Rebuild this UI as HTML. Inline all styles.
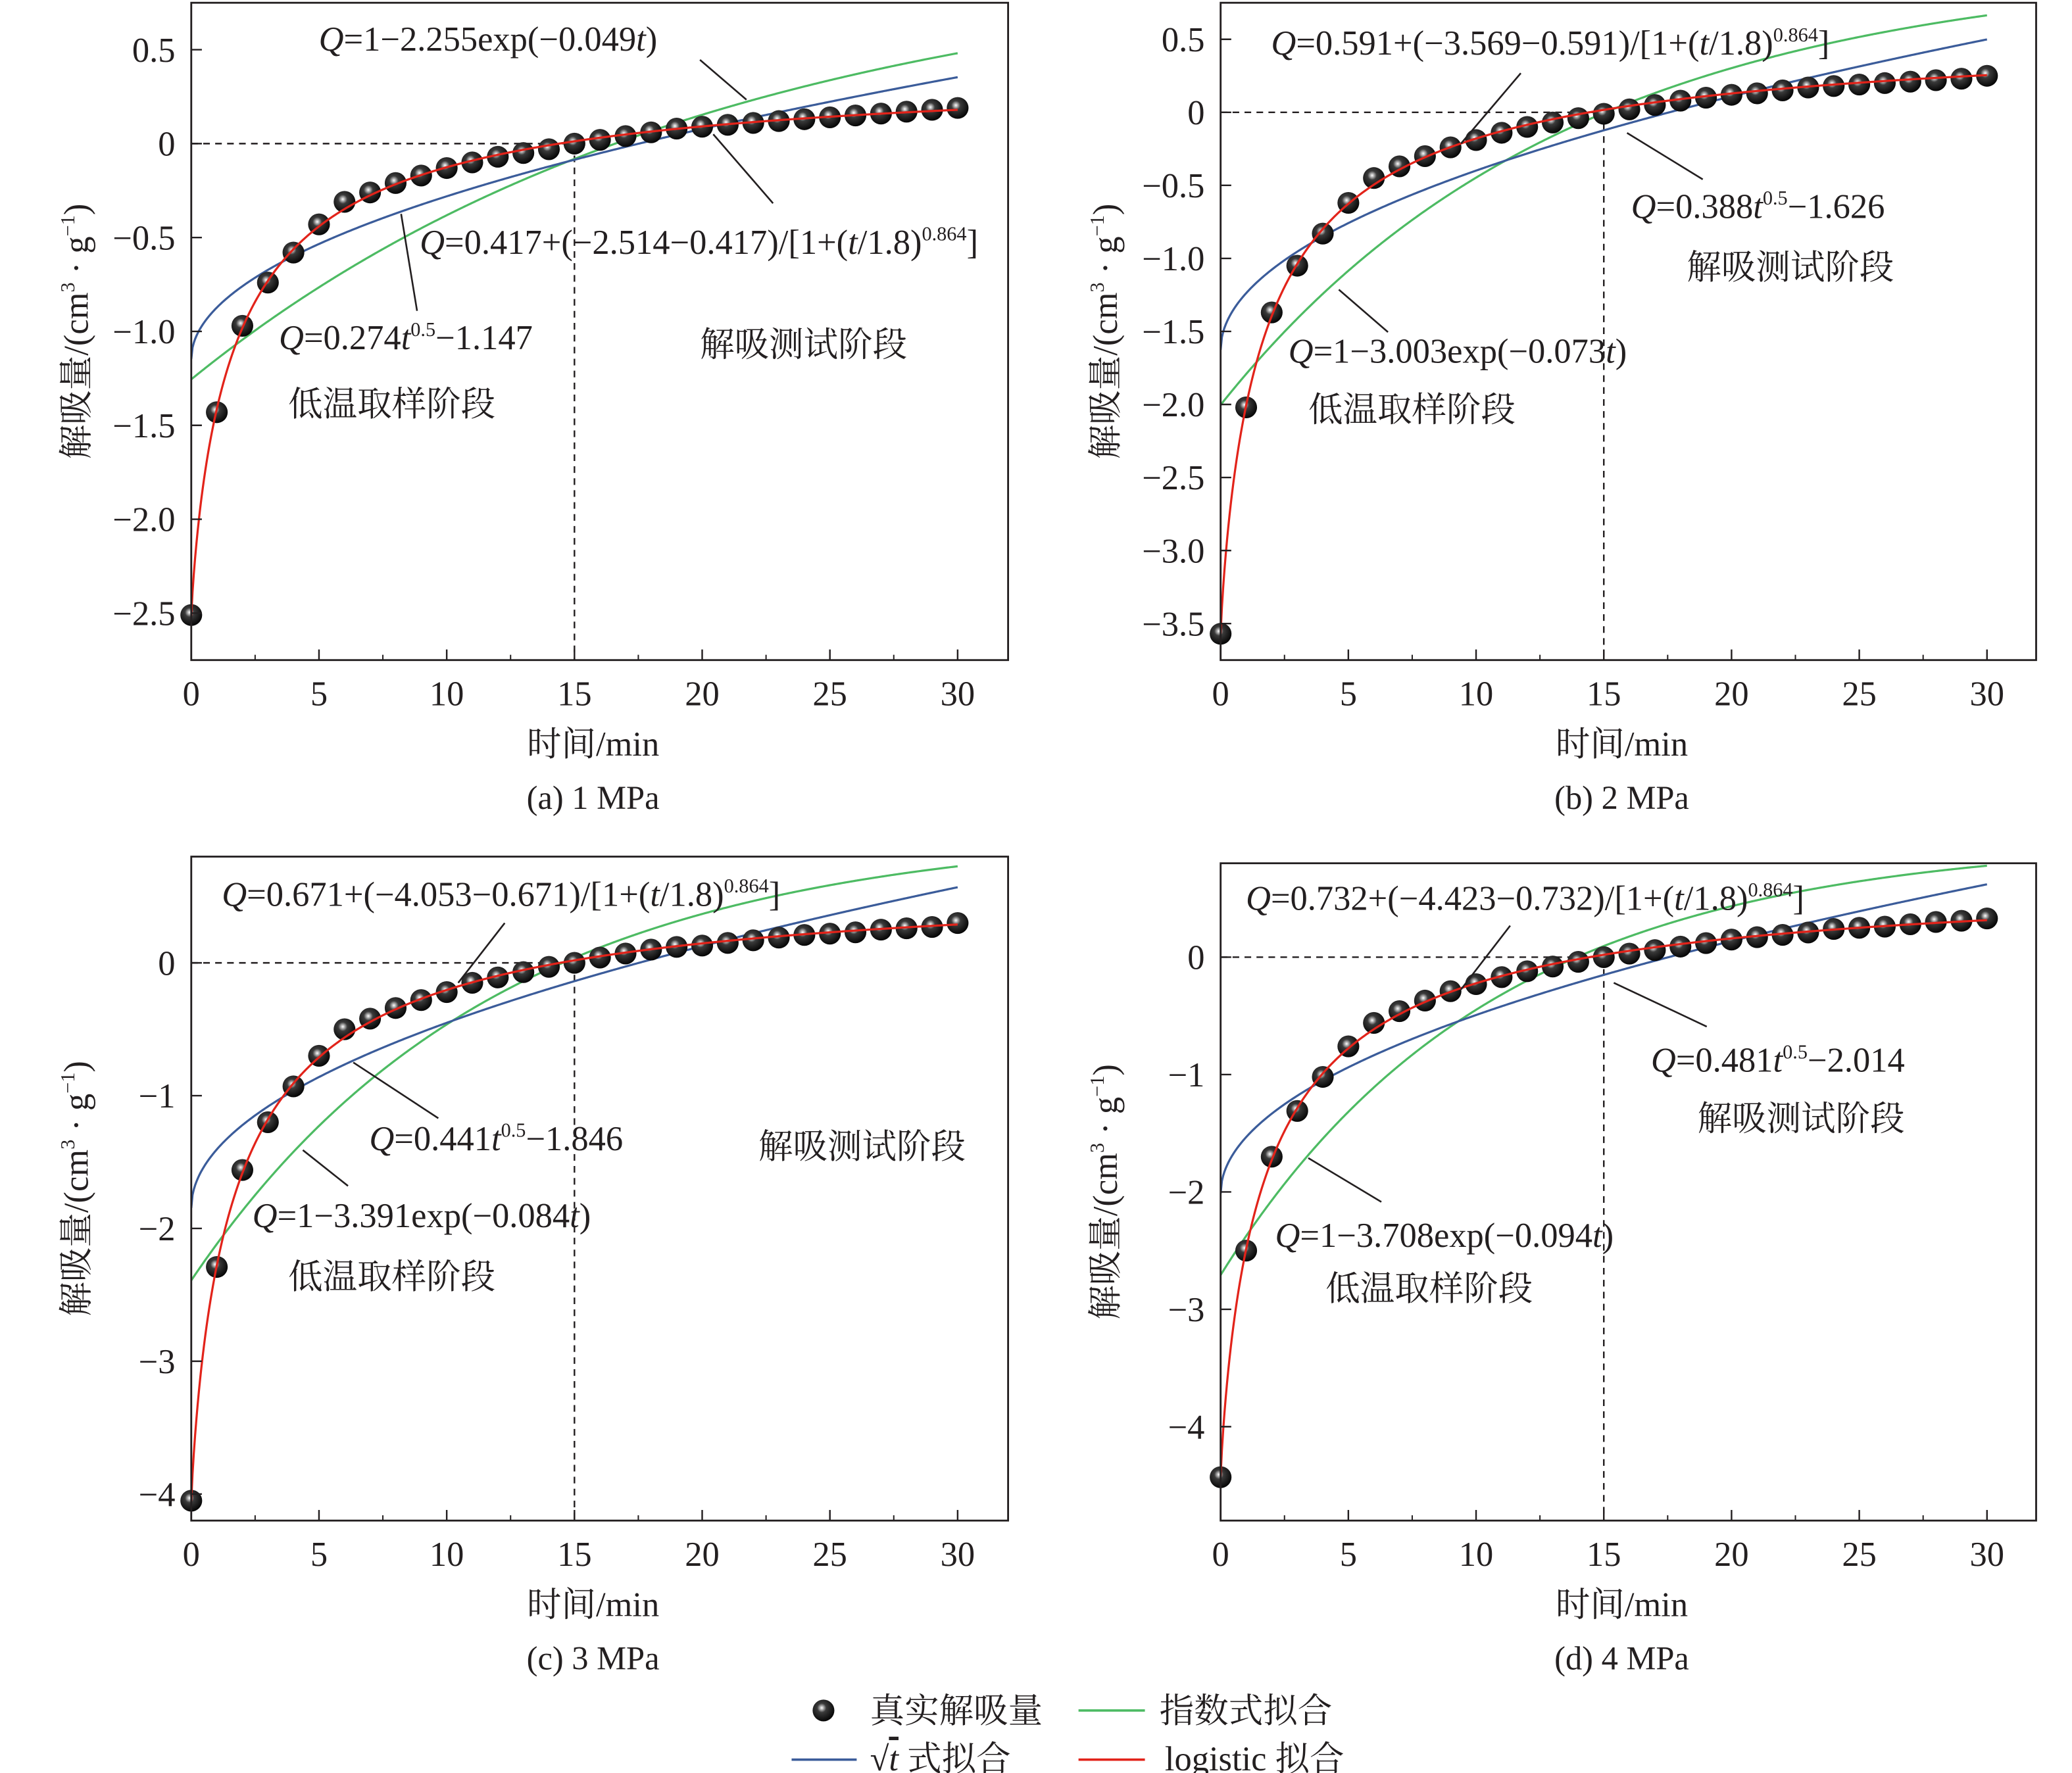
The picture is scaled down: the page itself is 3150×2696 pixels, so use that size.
<!DOCTYPE html>
<html><head><meta charset="utf-8">
<style>
html,body{margin:0;padding:0;background:#fff;}
svg{display:block;}
text{font-family:"Liberation Serif","Noto Serif CJK SC","Noto Sans CJK SC",serif;fill:#231f20;}
</style></head>
<body>
<svg id="fig" width="3150" height="2696" viewBox="0 0 1560 1335" xmlns="http://www.w3.org/2000/svg">
<defs>
<radialGradient id="ball" cx="0.42" cy="0.38" r="0.6">
<stop offset="0" stop-color="#ffffff"/>
<stop offset="0.18" stop-color="#9a9a9a"/>
<stop offset="0.35" stop-color="#3a3a3a"/>
<stop offset="1" stop-color="#080808"/>
</radialGradient>
</defs>
<g id="root"></g>
</svg>
<script>
const NS="http://www.w3.org/2000/svg";
const times=[0,1,2,3,4,5,6,7,8,9,10,11,12,13,14,15,16,17,18,19,20,21,22,23,24,25,26,27,28,29,30];
const dataA=[-2.51,-1.43,-0.97,-0.74,-0.58,-0.43,-0.31,-0.26,-0.21,-0.17,-0.13,-0.10,-0.07,-0.05,-0.03,0.0,0.02,0.04,0.06,0.08,0.09,0.10,0.11,0.12,0.13,0.14,0.15,0.16,0.17,0.18,0.19];
const dataB=[-3.57,-2.02,-1.37,-1.05,-0.83,-0.62,-0.45,-0.37,-0.30,-0.24,-0.19,-0.14,-0.10,-0.07,-0.04,-0.01,0.02,0.05,0.08,0.10,0.12,0.13,0.15,0.17,0.18,0.19,0.20,0.21,0.22,0.23,0.25];
const dataC=[-4.05,-2.29,-1.56,-1.20,-0.93,-0.70,-0.50,-0.42,-0.34,-0.28,-0.22,-0.15,-0.11,-0.07,-0.03,0.0,0.04,0.07,0.10,0.12,0.13,0.15,0.17,0.19,0.21,0.22,0.23,0.25,0.26,0.27,0.30];
const dataD=[-4.43,-2.50,-1.70,-1.31,-1.02,-0.76,-0.56,-0.46,-0.37,-0.29,-0.23,-0.17,-0.12,-0.08,-0.04,0.0,0.03,0.06,0.09,0.12,0.15,0.17,0.19,0.21,0.24,0.25,0.26,0.28,0.30,0.31,0.33];
const sqrtA=[0.274,-1.147], expA=[2.255,0.049], logA=[0.417,-2.514,1.8,0.864];
const sqrtB=[0.388,-1.626], expB=[3.003,0.073], logB=[0.591,-3.569,1.8,0.864];
const sqrtC=[0.441,-1.846], expC=[3.391,0.084], logC=[0.671,-4.053,1.8,0.864];
const sqrtD=[0.481,-2.014], expD=[3.708,0.094], logD=[0.732,-4.423,1.8,0.864];
const yTicksA=[0.5,0,-0.5,-1.0,-1.5,-2.0,-2.5];
const yTicksB=[0.5,0,-0.5,-1.0,-1.5,-2.0,-2.5,-3.0,-3.5];
const yTicksC=[0,-1,-2,-3,-4];
const yTicksD=[0,-1,-2,-3,-4];
const xTicks=[0,5,10,15,20,25,30];

const root=document.getElementById('root');
function mk(tag,attrs,parent){const e=document.createElementNS(NS,tag);for(const k in attrs)e.setAttribute(k,attrs[k]);(parent||root).appendChild(e);return e;}
function fmt(v,dec){let s=dec?v.toFixed(1):String(v);if(v===0)s="0";return s.replace('-','\u2212');}

const panels=[
 {id:'a',L:144,R:759,T:2,B:497,x30:721,ymin:-2.75,ymax:0.75,data:dataA,sq:sqrtA,ex:expA,lg:logA,ticks:yTicksA,dec:true,label:'(a) 1 MPa'},
 {id:'b',L:919,R:1533,T:2,B:497,x30:1496,ymin:-3.75,ymax:0.75,data:dataB,sq:sqrtB,ex:expB,lg:logB,ticks:yTicksB,dec:true,label:'(b) 2 MPa'},
 {id:'c',L:144,R:759,T:645,B:1145,x30:721,ymin:-4.2,ymax:0.8,data:dataC,sq:sqrtC,ex:expC,lg:logC,ticks:yTicksC,dec:false,label:'(c) 3 MPa'},
 {id:'d',L:919,R:1533,T:650,B:1145,x30:1496,ymin:-4.8,ymax:0.8,data:dataD,sq:sqrtD,ex:expD,lg:logD,ticks:yTicksD,dec:false,label:'(d) 4 MPa'}
];

panels.forEach(p=>{
 const g=mk('g',{});
 
 
 const xs=t=>p.L+(p.x30-p.L)*t/30;
 const ys=v=>p.T+(p.ymax-v)/(p.ymax-p.ymin)*(p.B-p.T);
 const cp=mk('clipPath',{id:'clip'+p.id},g);
 mk('rect',{x:p.L,y:p.T,width:p.R-p.L,height:p.B-p.T},cp);
 const dh=mk('line',{x1:p.L,y1:ys(0),x2:xs(15),y2:ys(0),stroke:'#231f20','stroke-width':1.2,'stroke-dasharray':'5,4'},g);
 
 
 const dv=mk('line',{x1:xs(15),y1:ys(0),x2:xs(15),y2:p.B,stroke:'#231f20','stroke-width':1.2,'stroke-dasharray':'5,4'},g);
 
 
 const fSq=t=>p.sq[0]*Math.sqrt(t)+p.sq[1];
 const fEx=t=>1-p.ex[0]*Math.exp(-p.ex[1]*t);
 const fLg=t=>p.lg[0]+(p.lg[1]-p.lg[0])/(1+Math.pow(t/p.lg[2],p.lg[3]));
 [[fEx,'#4dbb63','exp-fit-curve'],[fSq,'#3b5c9a','sqrt-fit-curve']].forEach(([f,c,n])=>{
  let d='';for(let i=0;i<=600;i++){const t=30*i/600;d+=(i?'L':'M')+xs(t).toFixed(2)+','+ys(f(t)).toFixed(2);}
  const pa=mk('path',{d:d,fill:'none',stroke:c,'stroke-width':1.6,'clip-path':'url(#clip'+p.id+')'},g);
  
  
 });
 p.data.forEach((v,i)=>{
  const c=mk('circle',{cx:xs(times[i]),cy:ys(v),r:8.2,fill:'url(#ball)'},g);
  
  
 });
 let d='';for(let i=0;i<=600;i++){const t=30*i/600;d+=(i?'L':'M')+xs(t).toFixed(2)+','+ys(fLg(t)).toFixed(2);}
 const lp=mk('path',{d:d,fill:'none',stroke:'#e2231a','stroke-width':1.6,'clip-path':'url(#clip'+p.id+')'},g);
 
 
 const fr=mk('rect',{x:p.L,y:p.T,width:p.R-p.L,height:p.B-p.T,fill:'none',stroke:'#231f20','stroke-width':1.4},g);
 
 
 xTicks.forEach(t=>{
  mk('line',{x1:xs(t),y1:p.B,x2:xs(t),y2:p.B-8,stroke:'#231f20','stroke-width':1.2},g);
  if(t<30) mk('line',{x1:xs(t+2.5),y1:p.B,x2:xs(t+2.5),y2:p.B-4,stroke:'#231f20','stroke-width':1},g);
  const tx=mk('text',{x:xs(t),y:p.B+34,'text-anchor':'middle','font-size':26},g);
  tx.textContent=String(t);
  
  
 });
 p.ticks.forEach(v=>{
  mk('line',{x1:p.L,y1:ys(v),x2:p.L+8,y2:ys(v),stroke:'#231f20','stroke-width':1.2},g);
  const tx=mk('text',{x:p.L-12,y:ys(v)+9,'text-anchor':'end','font-size':26},g);
  tx.textContent=fmt(v,p.dec);
  
  
 });
 const cx=(p.L+p.R)/2-5;
 const xt=mk('text',{x:cx,y:p.B+72,'text-anchor':'middle','font-size':26},g);
 xt.textContent='时间/min';
 
 
 const cap=mk('text',{x:cx,y:p.B+112,'text-anchor':'middle','font-size':25},g);
 cap.textContent=p.label;
 
 
 const yc=(p.T+p.B)/2, yx=p.L-78;
 const yt=mk('text',{x:yx,y:yc,'text-anchor':'middle','font-size':26,transform:'rotate(-90 '+yx+' '+yc+')'},g);
 yt.innerHTML='解吸量/(cm<tspan font-size="15" dy="-10">3</tspan><tspan dy="10"> · g</tspan><tspan font-size="15" dy="-10">−1</tspan><tspan dy="10">)</tspan>';
 
 
});

const notes=[
 ['<tspan font-style="italic">Q</tspan>=1−2.255exp(−0.049<tspan font-style="italic">t</tspan>)',240,38],
 ['<tspan font-style="italic">Q</tspan>=0.417+(−2.514−0.417)/[1+(<tspan font-style="italic">t</tspan>/1.8)<tspan font-size="15" dy="-10">0.864</tspan><tspan dy="10">]</tspan>',316,191],
 ['<tspan font-style="italic">Q</tspan>=0.274<tspan font-style="italic">t</tspan><tspan font-size="15" dy="-10">0.5</tspan><tspan dy="10">−1.147</tspan>',210,263],
 ['低温取样阶段',217,313],['解吸测试阶段',527,268],
 ['<tspan font-style="italic">Q</tspan>=0.591+(−3.569−0.591)/[1+(<tspan font-style="italic">t</tspan>/1.8)<tspan font-size="15" dy="-10">0.864</tspan><tspan dy="10">]</tspan>',957,41],
 ['<tspan font-style="italic">Q</tspan>=0.388<tspan font-style="italic">t</tspan><tspan font-size="15" dy="-10">0.5</tspan><tspan dy="10">−1.626</tspan>',1228,164],
 ['解吸测试阶段',1270,210],
 ['<tspan font-style="italic">Q</tspan>=1−3.003exp(−0.073<tspan font-style="italic">t</tspan>)',970,273],
 ['低温取样阶段',985,317],
 ['<tspan font-style="italic">Q</tspan>=0.671+(−4.053−0.671)/[1+(<tspan font-style="italic">t</tspan>/1.8)<tspan font-size="15" dy="-10">0.864</tspan><tspan dy="10">]</tspan>',167,682],
 ['<tspan font-style="italic">Q</tspan>=0.441<tspan font-style="italic">t</tspan><tspan font-size="15" dy="-10">0.5</tspan><tspan dy="10">−1.846</tspan>',278,866],
 ['解吸测试阶段',571,872],
 ['<tspan font-style="italic">Q</tspan>=1−3.391exp(−0.084<tspan font-style="italic">t</tspan>)',190,924],
 ['低温取样阶段',217,970],
 ['<tspan font-style="italic">Q</tspan>=0.732+(−4.423−0.732)/[1+(<tspan font-style="italic">t</tspan>/1.8)<tspan font-size="15" dy="-10">0.864</tspan><tspan dy="10">]</tspan>',938,685],
 ['<tspan font-style="italic">Q</tspan>=0.481<tspan font-style="italic">t</tspan><tspan font-size="15" dy="-10">0.5</tspan><tspan dy="10">−2.014</tspan>',1243,807],
 ['解吸测试阶段',1278,851],
 ['<tspan font-style="italic">Q</tspan>=1−3.708exp(−0.094<tspan font-style="italic">t</tspan>)',960,939],
 ['低温取样阶段',998,979]
];
notes.forEach(n=>{
 const t=mk('text',{x:n[1],y:n[2],'font-size':26});
 t.innerHTML=n[0];
 
 
});
const leaders=[[527,45,562,75],[537,101,582,153],[302,161,314,234],
 [1145,55,1100,108],[1225,100,1282,135],[1008,218,1045,250],
 [380,695,345,740],[266,800,330,842],[228,866,262,893],
 [1137,697,1100,745],[1215,740,1285,773],[985,872,1040,905]];
leaders.forEach(l=>{
 const e=mk('line',{x1:l[0],y1:l[1],x2:l[2],y2:l[3],stroke:'#231f20','stroke-width':1.3});
 
 
});

const lg=mk('g',{});


const lm=mk('circle',{cx:620,cy:1288,r:8.2,fill:'url(#ball)'},lg);


[[812,862,1288,'#4dbb63'],[596,645,1325,'#3b5c9a'],[812,862,1325,'#e2231a']].forEach(s=>{
 const e=mk('line',{x1:s[0],y1:s[2],x2:s[1],y2:s[2],stroke:s[3],'stroke-width':1.8},lg);
 
 
});
[['真实解吸量',655,1297],['指数式拟合',873,1297],['logistic 拟合',877,1333]].forEach(s=>{
 const t=mk('text',{x:s[1],y:s[2],'font-size':26},lg);
 t.textContent=s[0];
 
 
});
const sq=mk('text',{x:655,y:1333,'font-size':26},lg);
sq.innerHTML='√<tspan font-style="italic" text-decoration="overline">t</tspan> 式拟合';


</script>
</body></html>
